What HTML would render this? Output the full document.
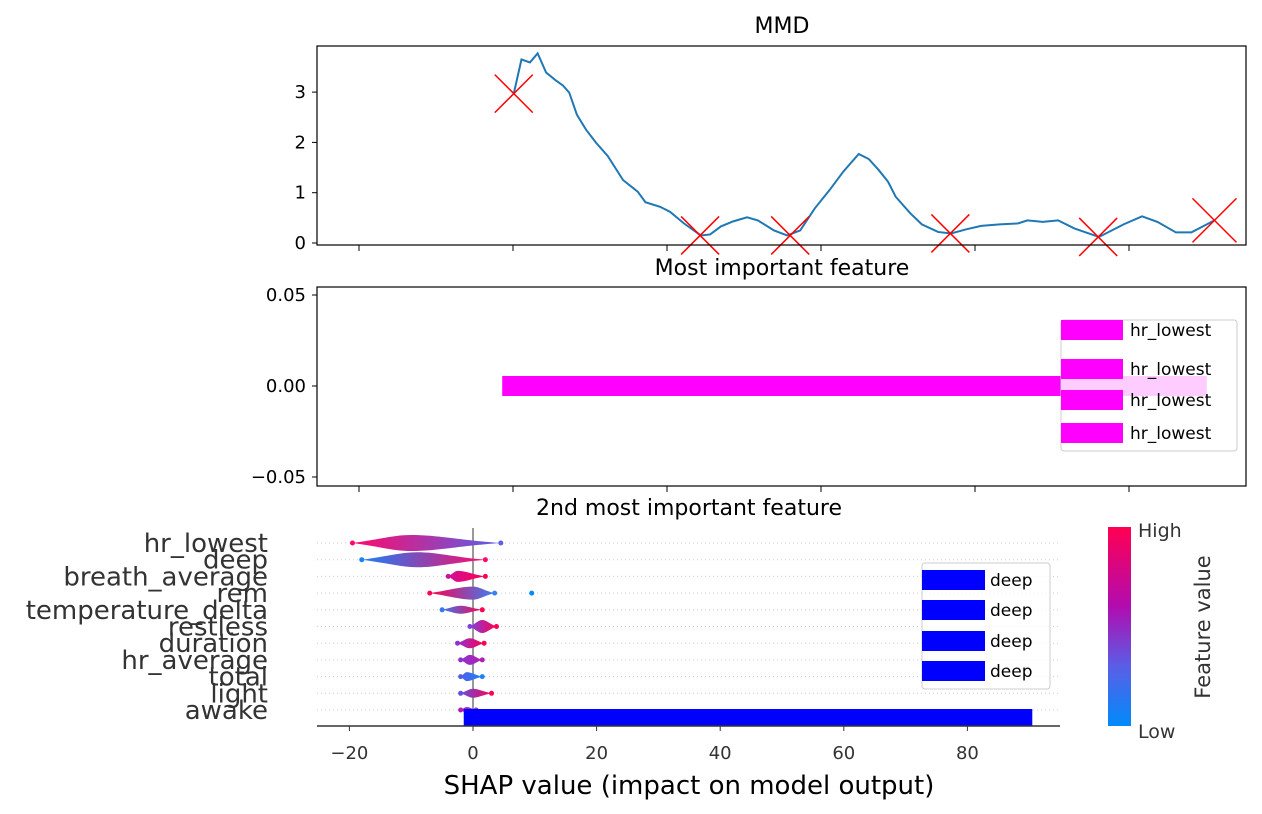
<!DOCTYPE html>
<html><head><meta charset="utf-8"><style>
body{margin:0;background:#fff;}
svg{display:block;font-family:"DejaVu Sans","Liberation Sans",sans-serif;}
</style></head><body>
<svg id="chart" width="1262" height="814" viewBox="0 0 1262 814" xmlns="http://www.w3.org/2000/svg">
<defs>
<linearGradient id="cbar" x1="0" y1="1" x2="0" y2="0">
<stop offset="0" stop-color="#008bfb"/><stop offset="0.3" stop-color="#5a5ee6"/><stop offset="0.6" stop-color="#b10cb0"/><stop offset="1" stop-color="#ff0052"/>
</linearGradient>
</defs>
<g id="topPanel"></g>
<g id="midPanel"></g>
<g id="botPanel"></g>
</svg>
<script>
// ---- MMD data ----
const mmdX = [20.1,21.1,22.2,23.2,24.3,25.5,26.5,27.3,28.3,29.5,30.8,32.3,34.3,36.2,37.2,39.1,40.4,42.2,44.4,45.6,47,48.6,50.4,51.8,53.9,55.6,57.3,59.2,61.1,62.9,64.9,66.2,67.5,68.7,69.7,71.6,73.1,75.2,76.9,78.8,80.8,83.2,85.6,86.8,88.8,90.8,92.9,96.1,99.3,101.7,103.7,106.1,108.1,111.1];
const mmdY = [2.97,3.65,3.59,3.77,3.39,3.24,3.13,2.99,2.55,2.25,1.99,1.73,1.25,1.02,0.81,0.72,0.62,0.39,0.15,0.17,0.33,0.43,0.51,0.45,0.25,0.15,0.25,0.69,1.05,1.42,1.77,1.67,1.45,1.22,0.92,0.59,0.37,0.22,0.19,0.27,0.34,0.37,0.39,0.45,0.42,0.45,0.29,0.12,0.37,0.53,0.42,0.21,0.21,0.45];
const markX = [20.1,44.3,56,76.8,96,111.1];
const markY = [2.97,0.15,0.15,0.19,0.12,0.45];
const mmdYTicks = [0,1,2,3];
const mmdXTicks = [0,20,40,60,80,100];
// ---- most important feature ----
const barStart = 18.6, barEnd = 110.1, barValue = 0;
const midYTicks = [0.05,0.00,-0.05];
const midYLabels = ["0.05","0.00","\u22120.05"];
const legend1 = ["hr_lowest","hr_lowest","hr_lowest","hr_lowest"];
// ---- SHAP summary ----
const features = ["hr_lowest","deep","breath_average","rem","temperature_delta","restless","duration","hr_average","total","light","awake"];
const fMin  = [-19.5,-18,-4,-7,-5,-0.5,-2.5,-2,-2,-2,-2];
const fMax  = [4.5,2,2,3.5,1.5,3.8,1.8,1.5,1.5,3,0.5];
const fPeak = [-10,-9,-2.5,0,-2,1.5,-0.5,-0.5,-1,0,-1];
const fThick= [16,15,11,13,8,13,10,10,9,9,6];
const fLowCol = ["#ff0a6a","#1a80f8","#d0109a","#ff0052","#3a78f0","#8040e0","#9030d0","#9030d0","#5060e8","#6050e0","#b020b0"];
const fHighCol= ["#5a60e8","#ff0a6a","#ff0052","#3a80f0","#ff0052","#ff0052","#ff0052","#b020b0","#2080f8","#ff0052","#9030d0"];
const awakeBar = [-1.5,90.5];
const shapTicks = [-20,0,20,40,60,80];
const legend2 = ["deep","deep","deep","deep"];

const NS="http://www.w3.org/2000/svg";
function mk(parent,tag,attrs,text){const e=document.createElementNS(NS,tag);for(const k in attrs)e.setAttribute(k,attrs[k]);if(text!==undefined)e.textContent=text;parent.appendChild(e);return e;}

// top panel
const topG=document.getElementById('topPanel');
const tx=u=>359+u*7.7, ty=v=>243-v*50.3;
mk(topG,'text',{x:782,y:33,'text-anchor':'middle','font-size':22,},'MMD');
let pts=mmdX.map((x,i)=>tx(x)+','+ty(mmdY[i])).join(' ');
mk(topG,'polyline',{points:pts,fill:'none',stroke:'#1f77b4','stroke-width':2,});
markX.forEach((x,i)=>{const s=i===5?22:19;const cx=tx(x),cy=ty(markY[i]);
 const g=mk(topG,'path',{d:`M${cx-s},${cy-s}L${cx+s},${cy+s}M${cx-s},${cy+s}L${cx+s},${cy-s}`,stroke:'#ff0000','stroke-width':1.5,fill:'none'});
 
 });
mk(topG,'rect',{x:317,y:46,width:929,height:199,fill:'none',stroke:'#000','stroke-width':1.2,});
mmdYTicks.forEach(v=>{mk(topG,'line',{x1:312,x2:317,y1:ty(v),y2:ty(v),stroke:'#000'});
 const t=mk(topG,'text',{x:306,y:ty(v)+6,'text-anchor':'end','font-size':18},String(v));
 
 });
mmdXTicks.forEach(u=>{mk(topG,'line',{x1:tx(u),x2:tx(u),y1:245,y2:251,stroke:'#000'});});

// middle panel
const midG=document.getElementById('midPanel');
const my=v=>386-v*1820;
mk(midG,'text',{x:782,y:275,'text-anchor':'middle','font-size':22,},'Most important feature');
mk(midG,'rect',{x:tx(barStart),y:my(barValue)-10,width:tx(barEnd)-tx(barStart),height:20,fill:'#ff00ff',});
mk(midG,'rect',{x:1061,y:320,width:176,height:131,rx:3,fill:'#fff','fill-opacity':0.8,stroke:'#ccc',});
legend1.forEach((l,i)=>{const y=[330,369,400,433][i];
 const r=mk(midG,'rect',{x:1061,y:y-10,width:62,height:20,fill:'#ff00ff'});
 
 
 const t=mk(midG,'text',{x:1130,y:y+6,'font-size':17},l);
 
 });
mk(midG,'rect',{x:317,y:287,width:929,height:199,fill:'none',stroke:'#000','stroke-width':1.2,});
midYTicks.forEach((v,i)=>{mk(midG,'line',{x1:312,x2:317,y1:my(v),y2:my(v),stroke:'#000'});
 const t=mk(midG,'text',{x:306,y:my(v)+6,'text-anchor':'end','font-size':18},midYLabels[i]);
 
 });
mmdXTicks.forEach(u=>{mk(midG,'line',{x1:tx(u),x2:tx(u),y1:486,y2:492,stroke:'#000'});});

// bottom panel
const botG=document.getElementById('botPanel');
const sx=v=>473+v*6.18, rowY=i=>543+i*16.7;
mk(botG,'text',{x:689,y:515,'text-anchor':'middle','font-size':22,},'2nd most important feature');
features.forEach((f,i)=>{const y=rowY(i);
 const gl=mk(botG,'line',{x1:317,x2:1060,y1:y,y2:y,stroke:'#ccc','stroke-dasharray':'1,3'});
 
 
 const t=mk(botG,'text',{x:268,y:y+9,'text-anchor':'end','font-size':26,fill:'#333'},f);
 
 });
mk(botG,'line',{x1:473,x2:473,y1:528,y2:726,stroke:'#999','stroke-width':2,});
const defsEl=document.querySelector('defs');
features.forEach((f,i)=>{const y=rowY(i);const a=sx(fMin[i]),b=sx(fMax[i]),p=sx(fPeak[i]),h=fThick[i]/2;
 const gid='g'+i;const lg=mk(defsEl,'linearGradient',{id:gid,x1:0,x2:1,y1:0,y2:0});
 mk(lg,'stop',{offset:0,'stop-color':fLowCol[i]});mk(lg,'stop',{offset:1,'stop-color':fHighCol[i]});
 const d=`M${a},${y} C${(a+p)/2},${y-h*0.5} ${p-(p-a)*0.3},${y-h} ${p},${y-h} C${p+(b-p)*0.3},${y-h} ${(p+b)/2},${y-h*0.4} ${b},${y} C${(p+b)/2},${y+h*0.4} ${p+(b-p)*0.3},${y+h} ${p},${y+h} C${p-(p-a)*0.3},${y+h} ${(a+p)/2},${y+h*0.5} ${a},${y}Z`;
 const s=mk(botG,'path',{d:d,fill:'url(#'+gid+')'});
 
 
 mk(botG,'circle',{cx:a,cy:y,r:2.5,fill:fLowCol[i]});mk(botG,'circle',{cx:b,cy:y,r:2.5,fill:fHighCol[i]});});
mk(botG,'circle',{cx:sx(9.5),cy:rowY(3),r:2.5,fill:'#008bfb',});
mk(botG,'rect',{x:sx(awakeBar[0]),y:709,width:sx(awakeBar[1])-sx(awakeBar[0]),height:17,fill:'#0000ff',});
mk(botG,'rect',{x:922,y:563,width:128,height:126,rx:3,fill:'#fff','fill-opacity':0.8,stroke:'#ccc',});
legend2.forEach((l,i)=>{const y=[580,610,641,671][i];
 const r=mk(botG,'rect',{x:922,y:y-10,width:63,height:20,fill:'#0000ff'});
 
 
 const t=mk(botG,'text',{x:990,y:y+6,'font-size':17},l);
 
 });
mk(botG,'line',{x1:317,x2:1060,y1:726,y2:726,stroke:'#333','stroke-width':1.5,});
shapTicks.forEach(v=>{mk(botG,'line',{x1:sx(v),x2:sx(v),y1:726,y2:731,stroke:'#333'});
 const t=mk(botG,'text',{x:sx(v),y:759,'text-anchor':'middle','font-size':18,fill:'#333'},v<0?'\u2212'+(-v):String(v));
 
 });
mk(botG,'text',{x:689,y:794,'text-anchor':'middle','font-size':26,fill:'#000',},'SHAP value (impact on model output)');
mk(botG,'rect',{x:1108,y:527,width:23,height:199,fill:'url(#cbar)',});
mk(botG,'text',{x:1138,y:537,'font-size':19,fill:'#333',},'High');
mk(botG,'text',{x:1138,y:738,'font-size':19,fill:'#333',},'Low');
mk(botG,'text',{x:0,y:0,transform:'translate(1210,627) rotate(-90)','text-anchor':'middle','font-size':21,fill:'#333',},'Feature value');
</script>
</body></html>
